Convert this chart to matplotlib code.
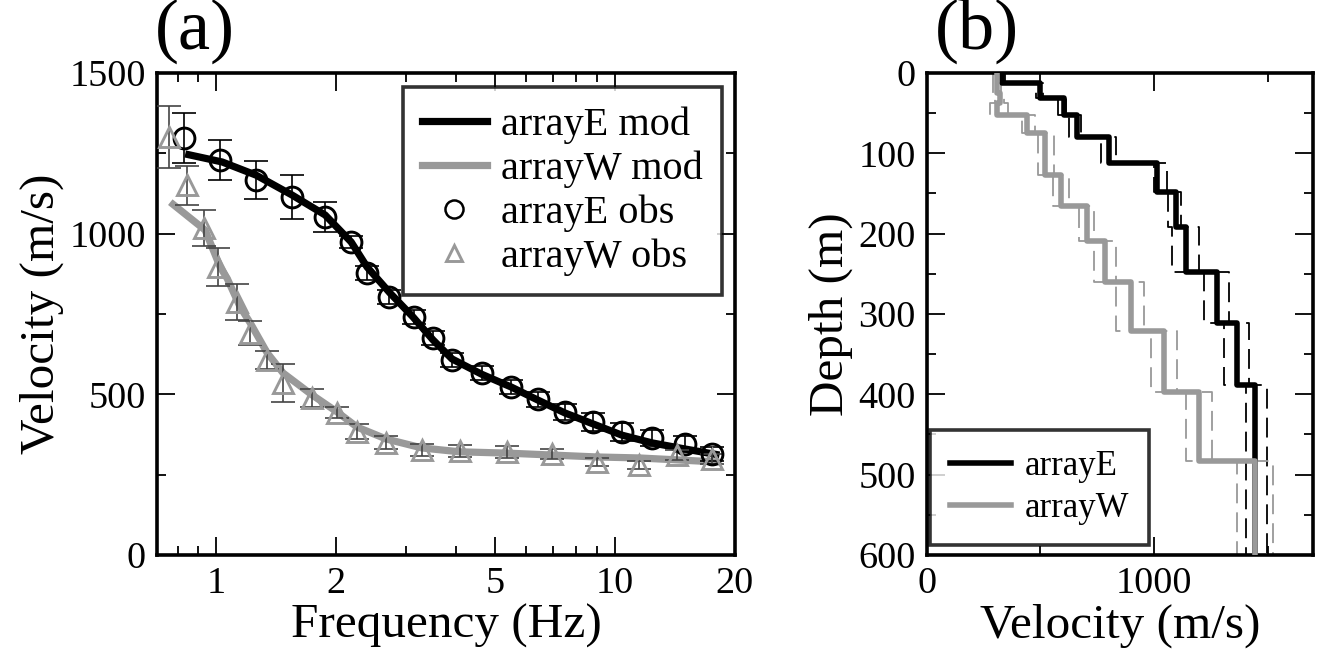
import numpy as np
import matplotlib
matplotlib.use("Agg")
import matplotlib.pyplot as plt
from matplotlib.lines import Line2D
from matplotlib.ticker import NullFormatter

plt.rcParams['font.family'] = ['Liberation Serif', 'DejaVu Serif']

GRAY = '#999999'

# (a) dispersion curves: observed points
E_freq = [0.831, 1.023, 1.259, 1.550, 1.876, 2.180, 2.390, 2.714, 3.135, 3.499,
          3.904, 4.642, 5.487, 6.412, 7.494, 8.809, 10.41, 12.38, 14.97, 17.51]
E_vel = [1298, 1229, 1167, 1114, 1052, 974, 878, 803, 741, 675,
         607, 566, 523, 485, 445, 414, 383, 364, 345, 314]
E_err = [78, 62, 59, 67, 47, 20, 21, 22, 22, 22,
         21, 23, 22, 23, 25, 28, 28, 25, 25, 22]

W_freq = [0.762, 0.846, 0.933, 1.012, 1.129, 1.217, 1.342, 1.472, 1.740, 2.011,
          2.256, 2.668, 3.283, 4.088, 5.362, 6.952, 9.015, 11.48, 14.30, 17.51]
W_vel = [1301, 1151, 1018, 896, 787, 691, 607, 535, 489, 442,
         384, 349, 327, 324, 321, 314, 289, 280, 311, 299]
W_err = [97, 61, 56, 58, 57, 36, 27, 59, 28, 17,
         23, 20, 19, 18, 18, 15, 12, 12, 15, 15]

# (a) model curves
Emod_f = [0.836, 1.035, 1.259, 1.550, 1.876, 2.180, 2.390, 2.729, 3.114, 3.499,
          3.904, 4.642, 5.487, 6.412, 7.494, 8.809, 10.41, 12.38, 14.97, 18.3]
Emod_v = [1248, 1223, 1182, 1120, 1058, 974, 896, 815, 741, 669,
          610, 562, 523, 482, 442, 408, 373, 349, 330, 311]
Wmod_f = [0.767, 0.938, 1.023, 1.066, 1.148, 1.217, 1.342, 1.472, 1.740, 2.011,
          2.256, 2.668, 3.283, 4.088, 5.362, 6.952, 9.015, 11.48, 14.30, 18.3]
Wmod_v = [1098, 1011, 896, 860, 772, 722, 629, 566, 498, 445,
          398, 361, 333, 321, 317, 311, 305, 302, 296, 289]

# (b) layered velocity profiles (layer interfaces in m, velocities in m/s)
E_bounds = [12.5, 31, 52, 80, 112, 148, 192, 248, 311, 388]
E_vs = [329, 496, 605, 662, 803, 1013, 1096, 1140, 1276, 1364, 1447]
E_lo = [315, 480, 575, 627, 768, 1000, 1061, 1079, 1219, 1307, 1404]
E_hi = [345, 512, 614, 680, 833, 1057, 1118, 1197, 1329, 1417, 1496]

W_bounds = [25, 37, 52, 75, 127, 166, 209, 260, 321, 397, 483]
W_vs = [307, 320, 307, 439, 518, 592, 706, 785, 899, 1044, 1197, 1447]
W_lo = [290, 300, 276, 417, 491, 553, 671, 737, 833, 987, 1140, 1364]
W_hi = [325, 340, 355, 474, 561, 627, 737, 833, 956, 1101, 1254, 1526]

MAXDEPTH = 600

TICK_FS = 27.5
LABEL_FS = 35.5
LEG_FS = 29
LEG2_FS = 25
PANEL_FS = 52


def step_profile(bounds, vel):
    x = np.repeat(vel, 2)
    y = np.concatenate([[0], np.repeat(bounds, 2), [MAXDEPTH]])
    return x, y


def style_axis(ax):
    for sp in ax.spines.values():
        sp.set_linewidth(2.6)
    ax.tick_params(which='both', direction='in', top=True, right=True,
                   width=1.3, labelsize=TICK_FS, pad=8)
    ax.tick_params(which='major', length=13)
    ax.tick_params(which='minor', length=6.5)


fig = plt.figure(figsize=(13.21, 6.55), dpi=100)
ax1 = fig.add_axes([0.1188, 0.1527, 0.4375, 0.7359])
ax2 = fig.add_axes([0.7017, 0.1527, 0.2922, 0.7359])

# ---- panel (a)
ax1.plot(Emod_f, Emod_v, color='black', lw=5.2, solid_capstyle='butt', zorder=2)
ax1.plot(Wmod_f, Wmod_v, color=GRAY, lw=5.2, solid_capstyle='butt', zorder=2)
ax1.errorbar(E_freq, E_vel, yerr=E_err, fmt='none', ecolor='black',
             elinewidth=1.2, capsize=8.5, capthick=1.2, zorder=3)
ax1.errorbar(W_freq, W_vel, yerr=W_err, fmt='none', ecolor='#444444',
             elinewidth=1.2, capsize=8.5, capthick=1.2, zorder=3)
ax1.plot(E_freq, E_vel, 'o', mfc='none', mec='black', ms=15, mew=2.1, zorder=4)
ax1.plot(W_freq, W_vel, '^', mfc='none', mec=GRAY, ms=14, mew=2.1, zorder=4)

ax1.set_xscale('log')
ax1.set_xlim(0.71, 20)
ax1.set_ylim(0, 1500)
ax1.set_xticks([1, 2, 5, 10, 20], labels=['1', '2', '5', '10', '20'])
ax1.set_xticks([0.8, 0.9, 3, 4, 6, 7, 8, 9], minor=True)
ax1.xaxis.set_minor_formatter(NullFormatter())
ax1.set_yticks([0, 500, 1000, 1500])
ax1.set_yticks([250, 750, 1250], minor=True)
style_axis(ax1)
ax1.set_xlabel('Frequency (Hz)', fontsize=LABEL_FS, labelpad=2)
ax1.set_ylabel('Velocity (m/s)', fontsize=LABEL_FS, labelpad=4)
ax1.text(-0.003, 1.05, '(a)', transform=ax1.transAxes, fontsize=PANEL_FS,
         ha='left', va='baseline')

handles = [
    Line2D([], [], color='black', lw=5.2),
    Line2D([], [], color=GRAY, lw=5.2),
    Line2D([], [], ls='none', marker='o', mfc='none', mec='black', ms=13, mew=1.8),
    Line2D([], [], ls='none', marker='^', mfc='none', mec=GRAY, ms=12, mew=2.1),
]
leg = ax1.legend(handles, ['arrayE mod', 'arrayW mod', 'arrayE obs', 'arrayW obs'],
                 loc='upper right', bbox_to_anchor=(0.9775, 0.971), borderaxespad=0,
                 fontsize=LEG_FS, fancybox=False, handlelength=1.6, handletextpad=0.35,
                 labelspacing=0.16, borderpad=0.48)
leg.get_frame().set_edgecolor('black')
leg.get_frame().set_linewidth(2.6)

# ---- panel (b)
dash = (0, (11, 5))
for bounds, lo, hi, col in [(E_bounds, E_lo, E_hi, 'black'),
                            (W_bounds, W_lo, W_hi, GRAY)]:
    for prof in (lo, hi):
        x, y = step_profile(bounds, prof)
        ax2.plot(x, y, color=col, lw=1.3, ls=dash, zorder=2)
xe, ye = step_profile(E_bounds, E_vs)
ax2.plot(xe, ye, color='black', lw=4.0, zorder=3)
xw, yw = step_profile(W_bounds, W_vs)
ax2.plot(xw, yw, color=GRAY, lw=4.0, zorder=4)

ax2.set_xlim(0, 1700)
ax2.set_ylim(MAXDEPTH, 0)
ax2.set_xticks([0, 1000])
ax2.set_xticks([500, 1500], minor=True)
ax2.set_yticks(np.arange(0, 601, 100))
ax2.set_yticks(np.arange(50, 600, 100), minor=True)
style_axis(ax2)
ax2.set_xlabel('Velocity (m/s)', fontsize=LABEL_FS, labelpad=2)
ax2.set_ylabel('Depth (m)', fontsize=LABEL_FS, labelpad=4)
ax2.text(0.02, 1.05, '(b)', transform=ax2.transAxes, fontsize=PANEL_FS,
         ha='left', va='baseline')

leg2 = ax2.legend([Line2D([], [], color='black', lw=4.0),
                   Line2D([], [], color=GRAY, lw=4.0)],
                  ['arrayE', 'arrayW'], loc='lower left',
                  bbox_to_anchor=(0.008, 0.021), borderaxespad=0,
                  fontsize=LEG2_FS, fancybox=False, handlelength=1.75,
                  handletextpad=0.4, labelspacing=0.25, borderpad=0.58)
leg2.get_frame().set_edgecolor('black')
leg2.get_frame().set_linewidth(2.6)

fig.savefig('out.png', dpi=100)
